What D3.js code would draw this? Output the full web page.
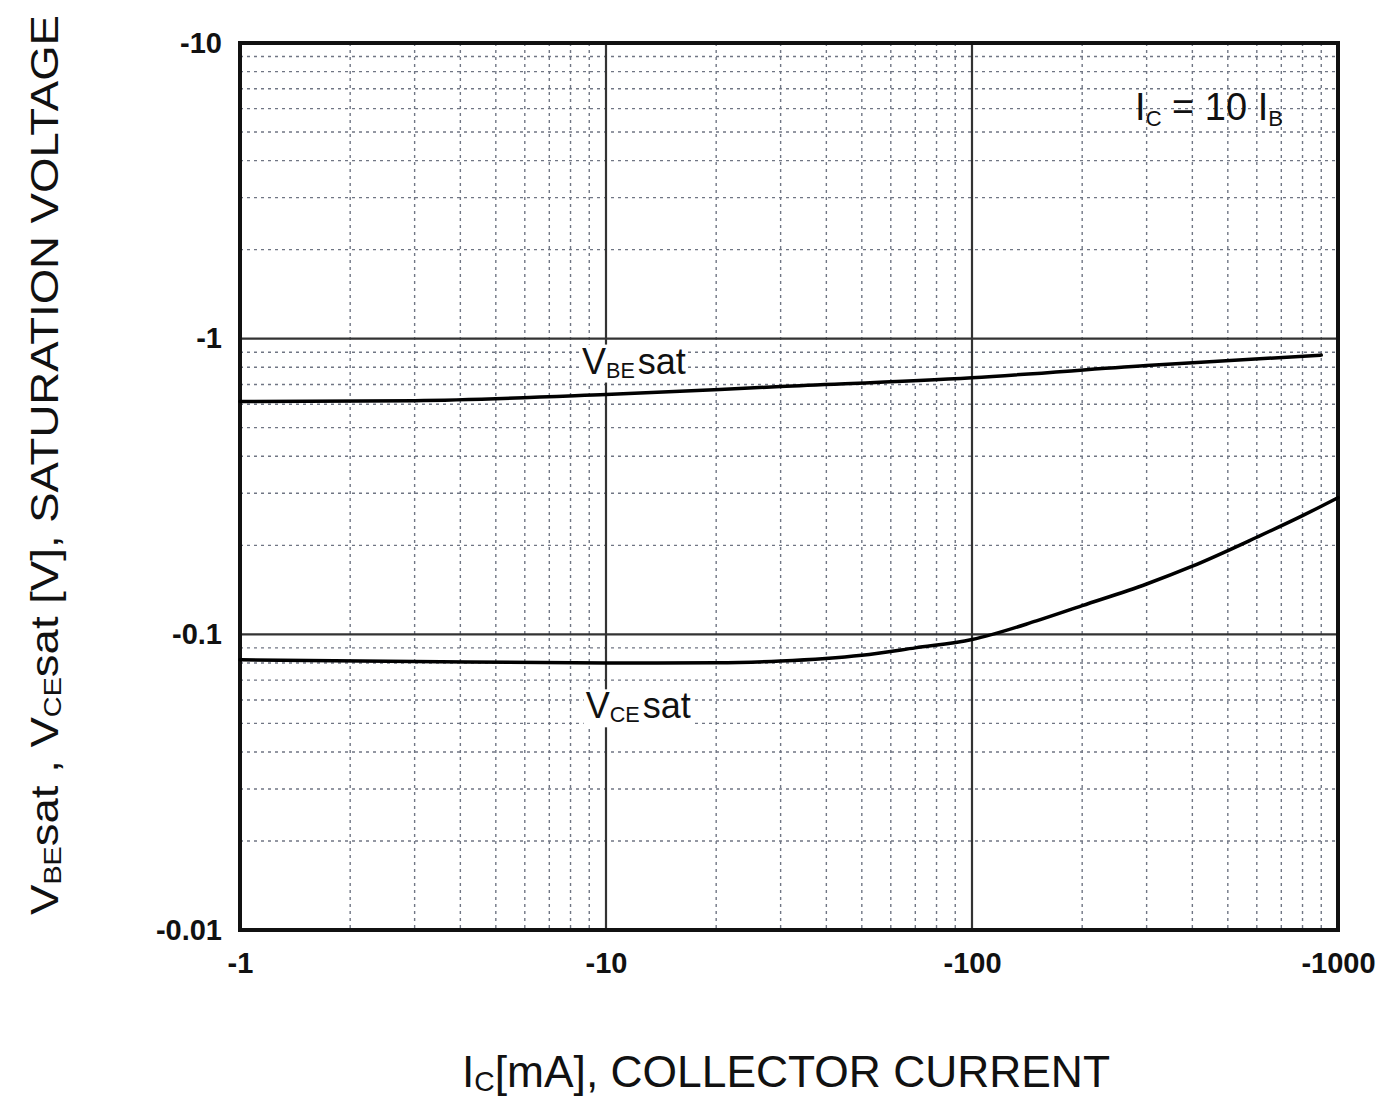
<!DOCTYPE html>
<html>
<head>
<meta charset="utf-8">
<script src="https://cdn.jsdelivr.net/npm/d3@7/dist/d3.min.js"></script>
<style>
  body { margin: 0; background: #fff; }
  svg { display: block; }
  text { font-family: "Liberation Sans", Arial, sans-serif; fill: #111; }
</style>
</head>
<body>
<div class="app"></div>
<script>
// collector current [mA] vs saturation voltage [V] (shown negative on the axes)
var vbeCurrent = [1, 3, 10, 30, 100, 300, 900];
var vbeVoltage = [0.613, 0.617, 0.647, 0.689, 0.738, 0.811, 0.88];

var vceCurrent = [1, 3, 10, 20, 30, 50, 70, 100, 150, 200, 300, 400, 600, 800, 1000];
var vceVoltage = [0.082, 0.081, 0.080, 0.0801, 0.0812, 0.085, 0.09, 0.096, 0.111, 0.125, 0.148, 0.17, 0.213, 0.252, 0.29];

var xTickValues = [1, 10, 100, 1000];
var xTickLabels = ["-1", "-10", "-100", "-1000"];
var yTickValues = [0.01, 0.1, 1, 10];
var yTickLabels = ["-0.01", "-0.1", "-1", "-10"];

var margin = {top: 43, right: 38, bottom: 175, left: 240},
    W = 1376, H = 1105,
    width = W - margin.left - margin.right,
    height = H - margin.top - margin.bottom;

var x = d3.scaleLog().domain([1, 1000]).range([0, width]);
var y = d3.scaleLog().domain([0.01, 10]).range([height, 0]);

var svg = d3.select(".app").append("svg")
    .attr("width", W)
    .attr("height", H);

var g = svg.append("g")
    .attr("transform", "translate(" + margin.left + "," + margin.top + ")");

// minor grid (2..9 in each decade)
var minorX = [], minorY = [];
[1, 10, 100].forEach(function(d) { for (var k = 2; k <= 9; k++) minorX.push(d * k); });
[0.01, 0.1, 1].forEach(function(d) { for (var k = 2; k <= 9; k++) minorY.push(d * k); });

g.append("g").selectAll("line").data(minorX).enter().append("line")
    .attr("x1", function(d) { return x(d); }).attr("x2", function(d) { return x(d); })
    .attr("y1", 0).attr("y2", height)
    .attr("stroke", "#707684").attr("stroke-width", 1.4)
    .attr("stroke-dasharray", "3,4");

g.append("g").selectAll("line").data(minorY).enter().append("line")
    .attr("y1", function(d) { return y(d); }).attr("y2", function(d) { return y(d); })
    .attr("x1", 0).attr("x2", width)
    .attr("stroke", "#707684").attr("stroke-width", 1.4)
    .attr("stroke-dasharray", "3,4");

// major grid
g.append("g").selectAll("line").data([10, 100]).enter().append("line")
    .attr("x1", function(d) { return x(d); }).attr("x2", function(d) { return x(d); })
    .attr("y1", 0).attr("y2", height)
    .attr("stroke", "#333").attr("stroke-width", 2.2);

g.append("g").selectAll("line").data([0.1, 1]).enter().append("line")
    .attr("y1", function(d) { return y(d); }).attr("y2", function(d) { return y(d); })
    .attr("x1", 0).attr("x2", width)
    .attr("stroke", "#333").attr("stroke-width", 2.2);

// frame
g.append("rect")
    .attr("width", width).attr("height", height)
    .attr("fill", "none").attr("stroke", "#111").attr("stroke-width", 4);

// axes (labels only, frame drawn above)
var xAxis = g.append("g")
    .attr("transform", "translate(0," + height + ")")
    .call(d3.axisBottom(x).tickValues(xTickValues).tickSize(0).tickPadding(22)
      .tickFormat(function(d, i) { return xTickLabels[i]; }));
xAxis.select(".domain").remove();
xAxis.selectAll("text")
    .style("font-size", "29px").style("font-weight", "bold").attr("fill", "#111");

var yAxis = g.append("g")
    .call(d3.axisLeft(y).tickValues(yTickValues).tickSize(0).tickPadding(18)
      .tickFormat(function(d, i) { return yTickLabels[i]; }));
yAxis.select(".domain").remove();
yAxis.selectAll("text")
    .style("font-size", "29px").style("font-weight", "bold").attr("fill", "#111");

// curve labels, on white patches like the original
function subLabel(parent, px, py, main, sub, rest, size) {
  var t = parent.append("text").attr("x", px).attr("y", py).style("font-size", size + "px");
  t.append("tspan").text(main);
  t.append("tspan").text(sub).style("font-size", (size * 0.6) + "px").attr("dy", 4);
  t.append("tspan").text(rest).attr("dx", 3).attr("dy", -4);
  var b = t.node().getBBox();
  parent.insert("rect", "text")
    .attr("x", b.x - 2).attr("y", b.y + 4).attr("width", b.width + 4).attr("height", b.height - 4)
    .attr("fill", "#fff");
  return t;
}

// curves
var line = d3.line()
    .x(function(d) { return x(d[0]); })
    .y(function(d) { return y(d[1]); })
    .curve(d3.curveMonotoneX);

var labels = g.append("g");
subLabel(labels, x(8.6), y(0.762), "V", "BE", "sat", 36);
subLabel(labels, x(8.8), y(0.052), "V", "CE", "sat", 36);

g.append("path")
    .datum(d3.zip(vbeCurrent, vbeVoltage))
    .attr("fill", "none").attr("stroke", "#000").attr("stroke-width", 3.5)
    .attr("stroke-linecap", "round")
    .attr("d", line);

g.append("path")
    .datum(d3.zip(vceCurrent, vceVoltage))
    .attr("fill", "none").attr("stroke", "#000").attr("stroke-width", 3.5)
    .attr("stroke-linecap", "round")
    .attr("d", line);

// condition label
var cond = g.append("text").attr("x", x(279)).attr("y", y(5.5)).style("font-size", "38px");
cond.append("tspan").text("I");
cond.append("tspan").text("C").style("font-size", "22px").attr("dy", 6);
cond.append("tspan").text(" = 10 I").attr("dy", -6);
cond.append("tspan").text("B").style("font-size", "22px").attr("dy", 6);

// axis titles
var xt = svg.append("text")
    .attr("x", 462).attr("y", 1087)
    .attr("textLength", 648).attr("lengthAdjust", "spacingAndGlyphs")
    .style("font-size", "44px");
xt.append("tspan").text("I");
xt.append("tspan").text("C").style("font-size", "28px").attr("dy", 4);
xt.append("tspan").text("[mA], COLLECTOR CURRENT").attr("dy", -4);

var yt = svg.append("text")
    .attr("transform", "translate(58,915)rotate(-90)")
    .attr("textLength", 900).attr("lengthAdjust", "spacingAndGlyphs")
    .style("font-size", "38px");
yt.append("tspan").text("V");
yt.append("tspan").text("BE").style("font-size", "24px").attr("dy", 3);
yt.append("tspan").text("sat , V").attr("dy", -3);
yt.append("tspan").text("CE").style("font-size", "24px").attr("dy", 3);
yt.append("tspan").text("sat  [V], SATURATION VOLTAGE").attr("dy", -3);
</script>
</body>
</html>
